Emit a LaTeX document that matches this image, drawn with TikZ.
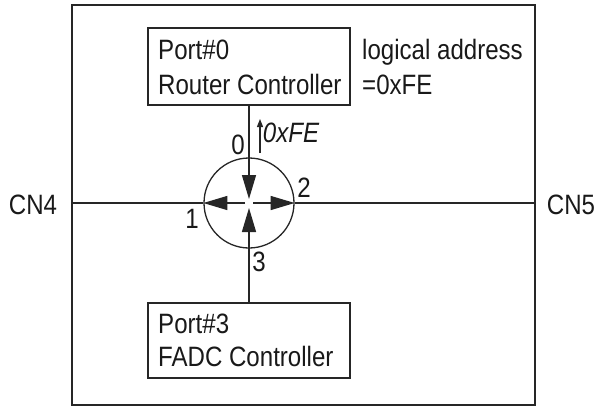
\documentclass[tikz,border=0pt]{standalone}
\usepackage{fontspec}
\setmainfont{Liberation Sans}
\newfontfamily\narrowsans[FakeStretch=0.86]{Liberation Sans}
\usetikzlibrary{arrows.meta}
\begin{document}
\begin{tikzpicture}[x=1pt,y=-1pt,
 ln/.style={line width=1.3pt, draw=black!85},
 box/.style={ln, draw, rectangle, minimum width=202pt, inner sep=0pt},
 lbl/.style={font=\narrowsans\fontsize{28}{34}\selectfont, inner sep=0pt, text=black!90},
 tl/.style={lbl, anchor=base west},
 arr/.style={ln, -{Triangle[length=24pt,width=14pt]}},
 sarr/.style={ln, -{Triangle[length=8pt,width=6pt]}}]
\useasboundingbox (0,0) rectangle (598,407);
\node[draw=black!85, line width=1.8pt, minimum width=463pt, minimum height=400pt, inner sep=0pt] (frame) at (303.5,205) {};
\node[box, minimum height=77pt] (router) at (249,66.5) {};
\node[box, minimum height=75pt] (fadc) at (249,340.5) {};
\node[tl] (rt1) at (158,59) {Port\#0};
\node[tl] (rt2) at (158,94) {Router Controller};
\node[tl] (ft1) at (158,333) {Port\#3};
\node[tl] (ft2) at (158,366) {FADC Controller};
\node[ln, draw, circle, minimum size=90pt, inner sep=0pt] (hub) at (249,203) {};
\node[lbl] (cn4) at (33,205) {CN4};
\node[lbl] (cn5) at (571,205) {CN5};
\node[tl] (la1) at (362,59) {logical address};
\node[tl] (la2) at (362,94) {=0xFE};
\node[lbl] (p0) at (238,145) {0};
\node[lbl] (p1) at (192,219) {1};
\node[lbl] (p2) at (304,188) {2};
\node[lbl] (p3) at (259,262) {3};
\node[lbl, font=\narrowsans\fontsize{28}{34}\selectfont\itshape] (fe) at (291,133) {0xFE};
\coordinate (c0) at (249,199);
\coordinate (c3) at (249,208);
\coordinate (cl) at (245,203);
\coordinate (cr) at (253,203);
\coordinate (fa) at (260,153);
\coordinate (fb) at (260,119);
% lines
\draw[ln] (frame.west |- hub) -- (hub.west);
\draw[ln] (hub.east) -- (frame.east |- hub);
\draw[arr] (router.south) -- (c0);
\draw[arr] (fadc.north) -- (c3);
\draw[arr] (cl) -- (hub.west);
\draw[arr] (cr) -- (hub.east);
\draw[sarr] (fa) -- (fb);
\end{tikzpicture}
\end{document}
